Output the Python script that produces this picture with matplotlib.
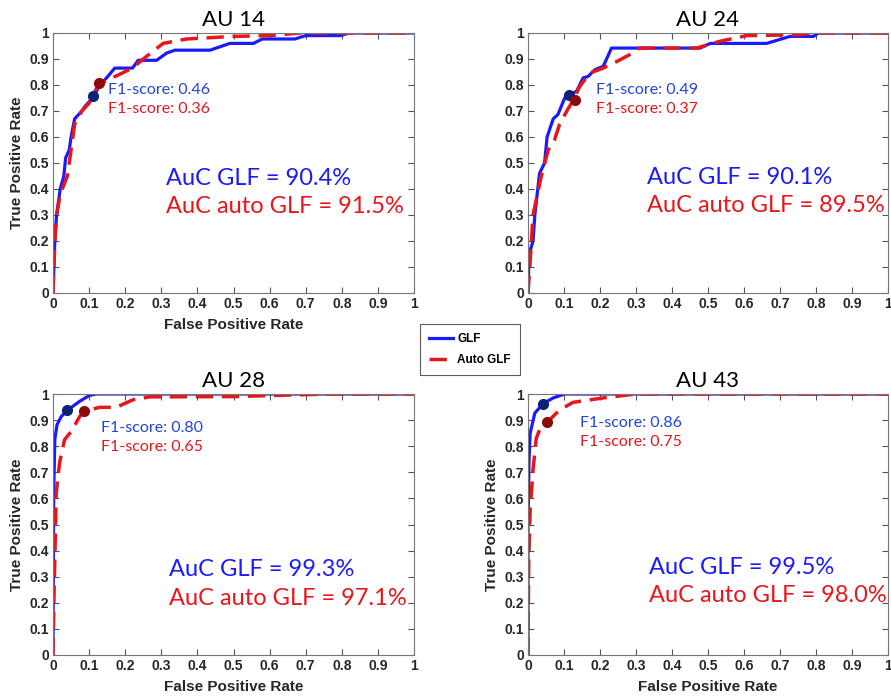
import numpy as np
import matplotlib.pyplot as plt

# ROC data
titles = ['AU 14', 'AU 24', 'AU 28', 'AU 43']

glf_fpr = [
    [0, 0.005, 0.01, 0.02, 0.03, 0.035, 0.045, 0.05, 0.06, 0.08, 0.09, 0.11, 0.13, 0.15, 0.171, 0.22,
     0.236, 0.287, 0.315, 0.338, 0.435, 0.49, 0.555, 0.58, 0.67, 0.70, 0.796, 0.82, 1.0],
    [0, 0.003, 0.014, 0.019, 0.032, 0.046, 0.053, 0.07, 0.083, 0.102, 0.116, 0.135, 0.153, 0.167,
     0.186, 0.209, 0.232, 0.478, 0.506, 0.663, 0.728, 0.793, 0.807, 1.0],
    [0, 0.002, 0.005, 0.011, 0.023, 0.042, 0.074, 0.10, 0.12, 1.0],
    [0, 0.0, 0.003, 0.006, 0.019, 0.042, 0.07, 0.102, 1.0],
]
glf_tpr = [
    [0, 0.2, 0.3, 0.4, 0.45, 0.52, 0.55, 0.6, 0.67, 0.70, 0.72, 0.75, 0.80, 0.83, 0.865, 0.865,
     0.895, 0.895, 0.923, 0.934, 0.934, 0.96, 0.96, 0.977, 0.977, 0.99, 0.99, 1.0, 1.0],
    [0, 0.15, 0.2, 0.3, 0.46, 0.5, 0.6, 0.67, 0.686, 0.75, 0.763, 0.776, 0.827, 0.833,
     0.859, 0.872, 0.942, 0.942, 0.96, 0.96, 0.987, 0.987, 1.0, 1.0],
    [0, 0.62, 0.825, 0.882, 0.914, 0.94, 0.972, 0.994, 1.0, 1.0],
    [0, 0.49, 0.75, 0.85, 0.927, 0.963, 0.985, 1.0, 1.0],
]

auto_fpr = [
    [0, 0.005, 0.01, 0.02, 0.04, 0.05, 0.06, 0.08, 0.10, 0.125, 0.153, 0.22, 0.25, 0.305, 0.37,
     0.5, 0.6, 0.685, 1.0],
    [0, 0.005, 0.014, 0.037, 0.056, 0.074, 0.088, 0.11, 0.125, 0.144, 0.172, 0.209, 0.246, 0.283,
     0.31, 0.468, 0.533, 0.608, 0.75, 0.8, 1.0],
    [0, 0.003, 0.009, 0.018, 0.032, 0.051, 0.074, 0.088, 0.129, 0.175, 0.222, 0.268, 0.5, 0.683,
     0.776, 1.0],
    [0, 0.002, 0.006, 0.014, 0.023, 0.032, 0.053, 0.079, 0.097, 0.125, 0.209, 0.30, 1.0],
]
auto_tpr = [
    [0, 0.2, 0.3, 0.38, 0.45, 0.55, 0.65, 0.70, 0.73, 0.80, 0.82, 0.865, 0.90, 0.96, 0.977,
     0.987, 0.99, 1.0, 1.0],
    [0, 0.1, 0.3, 0.45, 0.55, 0.59, 0.65, 0.705, 0.74, 0.795, 0.846, 0.865, 0.89, 0.917,
     0.942, 0.942, 0.968, 0.99, 0.993, 1.0, 1.0],
    [0, 0.24, 0.62, 0.735, 0.825, 0.857, 0.914, 0.934, 0.949, 0.949, 0.978, 0.989, 0.99, 0.997,
     1.0, 1.0],
    [0, 0.36, 0.556, 0.71, 0.83, 0.863, 0.891, 0.927, 0.946, 0.968, 0.985, 1.0, 1.0],
]

# operating points (fpr, tpr) and F1 scores
glf_pt = [(0.111, 0.756), (0.113, 0.76), (0.04, 0.94), (0.042, 0.962)]
auto_pt = [(0.127, 0.808), (0.131, 0.744), (0.086, 0.934), (0.053, 0.891)]
glf_f1 = ['0.46', '0.49', '0.80', '0.86']
auto_f1 = ['0.36', '0.37', '0.65', '0.75']
auc_glf = ['90.4', '90.1', '99.3', '99.5']
auc_auto = ['91.5', '89.5', '97.1', '98.0']

# text positions in data coords (x, y of first line)
f1_pos = [(0.153, 0.78), (0.188, 0.78), (0.134, 0.87), (0.144, 0.889)]
auc_pos = [(0.313, 0.44), (0.331, 0.445), (0.321, 0.326), (0.337, 0.336)]

blue = '#1a1aff'
red = '#e8151b'
calib = ['Lato', 'DejaVu Sans']

fig = plt.figure(figsize=(8.91, 7), dpi=100)
boxes = [
    [53/891, 1-293/700, 361/891, 260/700],
    [528/891, 1-293/700, 360/891, 260/700],
    [53/891, 1-655/700, 361/891, 261/700],
    [528/891, 1-655/700, 360/891, 261/700],
]
show_lab = [True, False, True, True]

for i in range(4):
    ax = fig.add_axes(boxes[i])
    ax.plot(glf_fpr[i], glf_tpr[i], color=blue, lw=2.3, solid_joinstyle='round', label='GLF')
    ax.plot(auto_fpr[i], auto_tpr[i], color=red, lw=2.5, ls=(0, (5, 2.5)), label='Auto GLF')
    ax.plot(*glf_pt[i], 'o', color='#0d2277', ms=7)
    ax.plot(*auto_pt[i], 'o', color='#8b0a0a', ms=7)
    ax.text(f1_pos[i][0], f1_pos[i][1], 'F1-score: ' + glf_f1[i], color='#2244dd',
            fontsize=11.5, family=calib, va='center')
    ax.text(f1_pos[i][0], f1_pos[i][1] - 0.072, 'F1-score: ' + auto_f1[i], color=red,
            fontsize=11.5, family=calib, va='center')
    ax.text(auc_pos[i][0], auc_pos[i][1], 'AuC GLF = ' + auc_glf[i] + '%', color=blue,
            fontsize=17, family=calib, va='center')
    ax.text(auc_pos[i][0], auc_pos[i][1] - 0.108, 'AuC auto GLF = ' + auc_auto[i] + '%', color=red,
            fontsize=17, family=calib, va='center')
    ax.set_xlim(0, 1)
    ax.set_ylim(0, 1)
    ax.set_xticks(np.arange(0, 1.01, 0.1))
    ax.set_yticks(np.arange(0, 1.01, 0.1))
    ax.set_xticklabels(['0'] + ['%.1f' % v for v in np.arange(0.1, 0.95, 0.1)] + ['1'])
    ax.set_yticklabels(['0'] + ['%.1f' % v for v in np.arange(0.1, 0.95, 0.1)] + ['1'])
    ax.tick_params(direction='in', top=True, right=True, length=4, width=0.8, color='#555555',
                   labelsize=10, pad=3)
    for lab in ax.get_xticklabels() + ax.get_yticklabels():
        lab.set_fontweight('bold')
        lab.set_family('Liberation Sans')
        lab.set_color('#262626')
    for s in ax.spines.values():
        s.set_color('#777777')
        s.set_linewidth(0.8)
    ax.set_title(titles[i], fontsize=16, family=calib, pad=5)
    if show_lab[i]:
        ax.set_xlabel('False Positive Rate', fontsize=11, fontweight='bold',
                      family='Liberation Sans', color='#262626', labelpad=5)
        ax.set_ylabel('True Positive Rate', fontsize=11, fontweight='bold',
                      family='Liberation Sans', color='#262626', labelpad=4)
    if i == 0:
        handles, labels = ax.get_legend_handles_labels()

leg = fig.legend(handles, labels, loc='upper left', bbox_to_anchor=(420/891, 1-324/700),
                 prop={'family': 'Liberation Sans', 'weight': 'bold', 'size': 8.5},
                 frameon=True, fancybox=False, edgecolor='#333333', handlelength=2.0,
                 borderpad=0.8, labelspacing=0.7, handletextpad=0.35, borderaxespad=0)
leg.get_frame().set_linewidth(0.8)

plt.savefig('out.png', dpi=100)
